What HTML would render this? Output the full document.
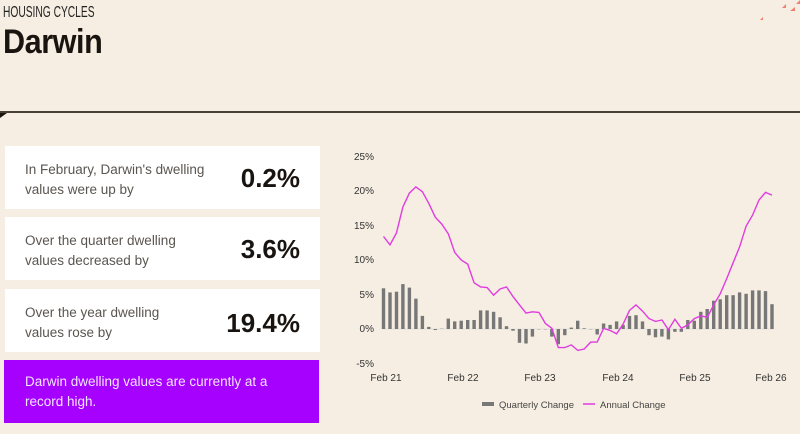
<!DOCTYPE html>
<html><head><meta charset="utf-8">
<style>
html,body{margin:0;padding:0;}
body{width:800px;height:434px;background:#f6eee2;position:relative;overflow:hidden;font-family:"Liberation Sans",sans-serif;}
.hc{position:absolute;left:3px;top:4px;font-size:15.5px;color:#222;transform:scaleX(0.66);transform-origin:0 0;white-space:nowrap;}
.tt{position:absolute;left:3px;top:23px;font-size:34px;font-weight:bold;color:#1a1410;letter-spacing:-0.5px;transform:scaleX(0.9);transform-origin:0 0;}
.rule{position:absolute;left:0;top:111px;width:800px;height:2px;background:#4a4036;}
.tri{position:absolute;left:0;top:113px;width:0;height:0;border-top:5px solid #1a1410;border-right:7px solid transparent;}
.box{position:absolute;left:5px;width:315px;height:63px;background:#fff;}
.box .t{position:absolute;left:20px;top:14px;font-size:13.5px;line-height:20px;color:#5a5550;}
.box .n{position:absolute;right:20px;top:17px;font-size:26px;font-weight:bold;color:#1a1410;}
.pur{position:absolute;left:4px;top:360px;width:315px;height:63px;background:#a600ff;}
.pur .t{position:absolute;left:21px;top:12px;font-size:13.5px;line-height:20px;color:#f4e6ff;}
svg{position:absolute;left:0;top:0;}
</style></head><body>
<div class="hc">HOUSING CYCLES</div>
<div class="tt">Darwin</div>
<div class="rule"></div><div class="tri"></div>
<div class="box" style="top:146px"><div class="t">In February, Darwin's dwelling<br>values were up by</div><div class="n">0.2%</div></div>
<div class="box" style="top:217px"><div class="t">Over the quarter dwelling<br>values decreased by</div><div class="n">3.6%</div></div>
<div class="box" style="top:289px"><div class="t">Over the year dwelling<br>values rose by</div><div class="n" style="top:19px">19.4%</div></div>
<div class="pur"><div class="t">Darwin dwelling values are currently at a<br>record high.</div></div>
<svg id="c" width="800" height="434" xmlns="http://www.w3.org/2000/svg" font-family="Liberation Sans, sans-serif">
<g font-size="10" fill="#333" text-anchor="end">
<text x="374" y="160">25%</text><text x="374" y="194">20%</text><text x="374" y="229">15%</text><text x="374" y="263">10%</text><text x="374" y="298">5%</text><text x="374" y="332">0%</text><text x="374" y="367">-5%</text>
</g>
<g font-size="10" fill="#333" text-anchor="middle">
<text x="386" y="381">Feb 21</text><text x="463" y="381">Feb 22</text><text x="540" y="381">Feb 23</text><text x="618" y="381">Feb 24</text><text x="695" y="381">Feb 25</text><text x="771" y="381">Feb 26</text>
</g>
<line x1="383" y1="329" x2="773" y2="329" stroke="#ddd" stroke-width="0.8"/>
<g id="bars" fill="#777"></g>
<polyline id="ln" fill="none" stroke="#e03ce0" stroke-width="1.4" points=""/>
<rect x="482" y="402" width="12" height="4" fill="#777"/>
<text x="499" y="408" font-size="9.5" fill="#444">Quarterly Change</text>
<line x1="583" y1="404" x2="595" y2="404" stroke="#e03ce0" stroke-width="1.5"/>
<text x="600" y="408" font-size="9.5" fill="#444">Annual Change</text>
<polygon points="782,8 786,8 786,4" fill="#f08070"/><polygon points="790,11 795,11 795,7" fill="#f08070"/><polygon points="760,20 763,20 763,17" fill="#f08070"/><polygon points="796,4 800,4 800,0" fill="#f08070"/>
</svg>
<script>
var A=[13.4,12.2,13.9,17.7,19.7,20.6,19.9,18.2,16.2,15.2,13.8,11.1,10.0,9.4,6.7,6.1,6.0,4.9,5.8,6.1,4.7,3.5,2.3,2.5,2.4,0.8,0.1,-2.7,-2.7,-2.3,-3.1,-2.9,-1.9,-1.9,0.1,-0.2,-0.7,0.7,2.7,3.5,2.6,1.5,1.1,1.3,-0.1,1.4,0.1,0.6,1.5,1.9,1.7,3.5,5.1,7.3,9.6,11.9,14.9,16.5,18.7,19.8,19.4];
var Q=[5.9,5.3,5.4,6.5,6.0,4.4,1.9,0.3,-0.15,0.05,1.5,1.1,1.2,1.3,1.3,2.7,2.7,2.5,1.7,0.4,-0.25,-2.0,-2.1,-1.1,0,0,-1.1,-2.2,-0.9,0.2,1.2,0.1,0,-0.8,0.8,0.6,1.1,0.6,1.9,2.0,1.1,-0.9,-1.2,-1.1,-1.5,-0.4,-0.4,1.3,1.2,2.5,2.9,4.1,4.3,4.9,4.9,5.3,5.1,5.6,5.6,5.5,3.6];
function X(i){return 383.5+i*(772-383.5)/60;}
function Y(v){return 329-v*6.9;}
var p=[];for(var i=0;i<A.length;i++)p.push(X(i).toFixed(1)+","+Y(A[i]).toFixed(1));
document.getElementById("ln").setAttribute("points",p.join(" "));
var s="";for(var i=0;i<Q.length;i++){var y0=Y(0),y1=Y(Q[i]);var t=Math.min(y0,y1),h=Math.max(Math.abs(y1-y0),0.3);
s+='<rect x="'+(X(i)-1.7).toFixed(1)+'" y="'+t.toFixed(1)+'" width="3.4" height="'+h.toFixed(1)+'"/>';}
document.getElementById("bars").innerHTML=s;
</script>
</body></html>
